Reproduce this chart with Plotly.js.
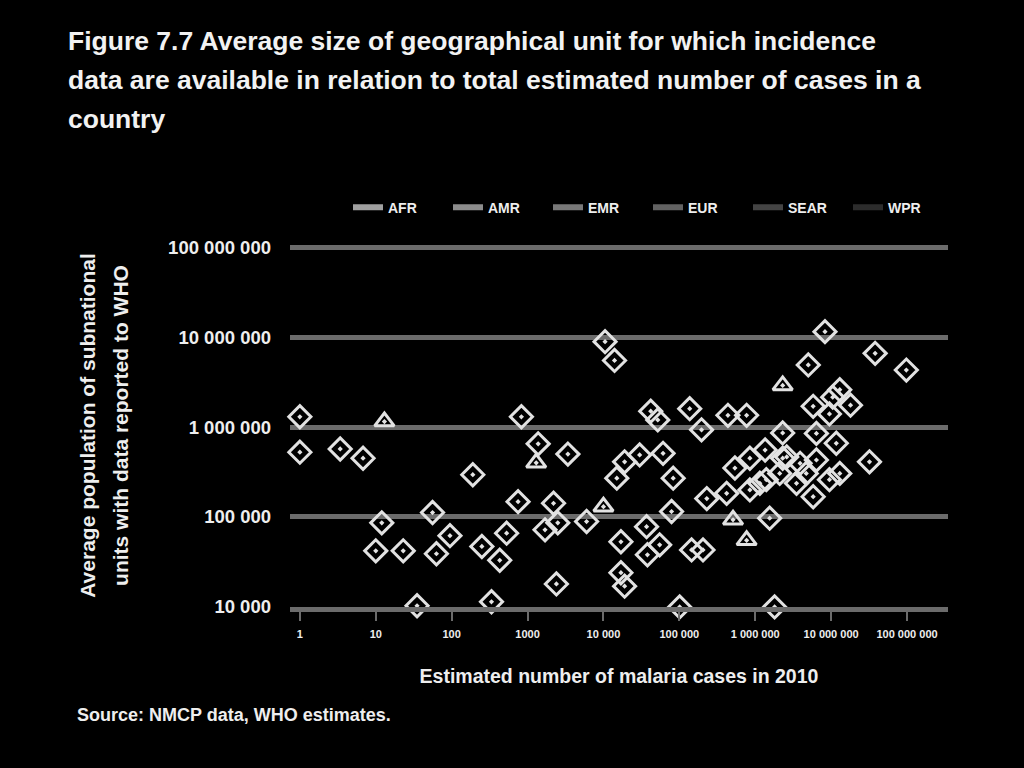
<!DOCTYPE html>
<html>
<head>
<meta charset="utf-8">
<script src="https://cdn.plot.ly/plotly-3.0.1.min.js"></script>
<style>
html,body{margin:0;padding:0;background:#000;}
#chart{width:1024px;height:768px;}
</style>
</head>
<body>
<div id="chart"></div>
<script>
// Region names (legend order)
const regions = ["AFR", "AMR", "EMR", "EUR", "SEAR", "WPR"];

// Estimated number of malaria cases in 2010 (x) and average population of subnational unit (y)
const afrX = [1550000, 5800000, 420000, 850000, 1400000, 2300000, 3900000, 3500000, 540000, 850000, 1350000, 98000000, 38000000, 13000000, 18000000, 5800000, 9500000, 6400000, 11700000, 2600000, 6400000, 32000000, 13000000, 9500000, 4700000, 2100000, 1150000, 10500000];
const afrY = [97000, 168000, 183000, 200000, 260000, 450000, 395000, 237000, 350000, 450000, 555000, 4300000, 6600000, 2600000, 1750000, 1700000, 1400000, 850000, 660000, 465000, 430000, 410000, 305000, 260000, 305000, 305000, 237000, 2150000];

const amrX = [190, 56, 95, 63, 830, 1380, 3400, 750, 2200, 6000, 1700, 2500, 530, 250, 430, 2400, 335, 15000, 17000, 19000, 17000];
const amrY = [295000, 112000, 62000, 39000, 1300000, 650000, 500000, 148000, 142000, 89000, 72000, 86000, 66000, 47000, 33000, 18000, 11400, 270000, 24000, 17000, 53000];

const emrX = [13, 1300, 10000, 2300000, 510000, 770000];
const emrY = [1150000, 400000, 130000, 2900000, 93000, 55000];

const eurX = [1, 1, 3.4, 6.8, 12, 10, 23, 35];
const eurY = [1300000, 525000, 570000, 450000, 86000, 42000, 42000, 10300];

const searX = [437000, 770000, 230000, 145000, 205000, 1800000, 8300000, 5000000, 2300000];
const searY = [1350000, 1350000, 160000, 43000, 43000, 10000, 11500000, 4900000, 860000];

const wprX = [42000, 52000, 61000, 19000, 30000, 37000, 38000, 55000, 10500, 14000, 137000, 196000, 83000, 79000, 101000];
const wprY = [1500000, 1200000, 510000, 410000, 490000, 78000, 38000, 49000, 8900000, 5500000, 1600000, 930000, 270000, 115000, 10000];

// Axis ticks
const xTickVals = [1, 10, 100, 1000, 10000, 100000, 1000000, 10000000, 100000000];
const xTickText = ["1", "10", "100", "1000", "10 000", "100 000", "1 000 000", "10 000 000", "100 000 000"];
const yTickVals = [10000, 100000, 1000000, 10000000, 100000000];
const yTickText = ["10 000", "100 000", "1 000 000", "10 000 000", "100 000 000"];

const seriesX = [afrX, amrX, emrX, eurX, searX, wprX];
const seriesY = [afrY, amrY, emrY, eurY, searY, wprY];
const symbols = ["diamond-open-dot", "diamond-open-dot", "triangle-up-open-dot", "diamond-open-dot", "diamond-open-dot", "diamond-open-dot"];
const legendGrays = ["#a0a0a0", "#8c8c8c", "#787878", "#626262", "#444444", "#2c2c2c"];

const FONT = "Liberation Sans, Arial, sans-serif";
const traces = [];
regions.forEach((r, i) => {
  traces.push({
    type: "scatter", mode: "markers", name: r,
    x: seriesX[i], y: seriesY[i],
    showlegend: false, cliponaxis: false,
    marker: {symbol: symbols[i], size: 17, color: "#e2e2e2", line: {width: 3, color: "#e2e2e2"}},
    hoverinfo: "x+y+name"
  });
});
regions.forEach((r, i) => {
  traces.push({
    type: "scatter", mode: "lines", name: r,
    x: [null], y: [null], showlegend: true,
    line: {color: legendGrays[i], width: 6}
  });
});

const S = (t, px) => "<span style='font-size:" + px + "px'>" + t + "</span>";

const layout = {
  width: 1024, height: 768,
  paper_bgcolor: "#000", plot_bgcolor: "#000",
  margin: {l: 290, r: 76, t: 244, b: 161},
  font: {family: FONT, color: "#eeeeee", weight: "bold"},
  title: {
    text: S("Figure 7.7 Average size of geographical unit for which incidence", 26.5) + "<br>" +
          S("data are available in relation to total estimated number of cases in a", 26.5) + "<br>" +
          S("country", 26.5),
    font: {family: FONT, size: 30, color: "#f2f2f2", weight: "bold"},
    x: 68/1024, xref: "container", xanchor: "left",
    y: 1 - 50/768, yref: "container", yanchor: "top"
  },
  xaxis: {
    type: "log", range: [-0.13, 8.54],
    tickvals: xTickVals, ticktext: xTickText,
    tickfont: {size: 11, color: "#eeeeee"},
    showgrid: false, zeroline: false,
    showline: true, linecolor: "#6b6b6b", linewidth: 5,
    ticks: "outside", ticklen: 9, tickwidth: 2, tickcolor: "#6b6b6b",
    ticklabelstandoff: 4,
    title: {text: "Estimated number of malaria cases in 2010", font: {size: 19.5, color: "#eeeeee"}, standoff: 32}
  },
  yaxis: {
    type: "log", range: [3.999, 8.035],
    tickvals: yTickVals, ticktext: yTickText,
    tickfont: {size: 18.5, color: "#eeeeee"},
    ticklabelstandoff: 18,
    showgrid: true, gridcolor: "#6b6b6b", gridwidth: 5,
    zeroline: false, showline: false, ticks: "",
    title: {
      text: S("Average population of subnational", 21) + "<br>" + S("units with data reported to WHO", 21),
      font: {size: 25, color: "#eeeeee"}, standoff: 32
    }
  },
  legend: {
    orientation: "h", x: 1, xanchor: "right", y: 1.1, yanchor: "middle",
    font: {size: 14, color: "#eeeeee"}, bgcolor: "rgba(0,0,0,0)",
    entrywidth: 55, entrywidthmode: "pixels", traceorder: "normal"
  },
  annotations: [{
    text: "Source: NMCP data, WHO estimates.",
    xref: "paper", yref: "paper", x: (74 - 290) / 661, y: (607 - 715) / 363,
    xanchor: "left", yanchor: "middle", showarrow: false,
    font: {size: 18, color: "#eeeeee"}
  }],
  showlegend: true
};

Plotly.newPlot("chart", traces, layout, {displayModeBar: false, staticPlot: true});
</script>
</body>
</html>
